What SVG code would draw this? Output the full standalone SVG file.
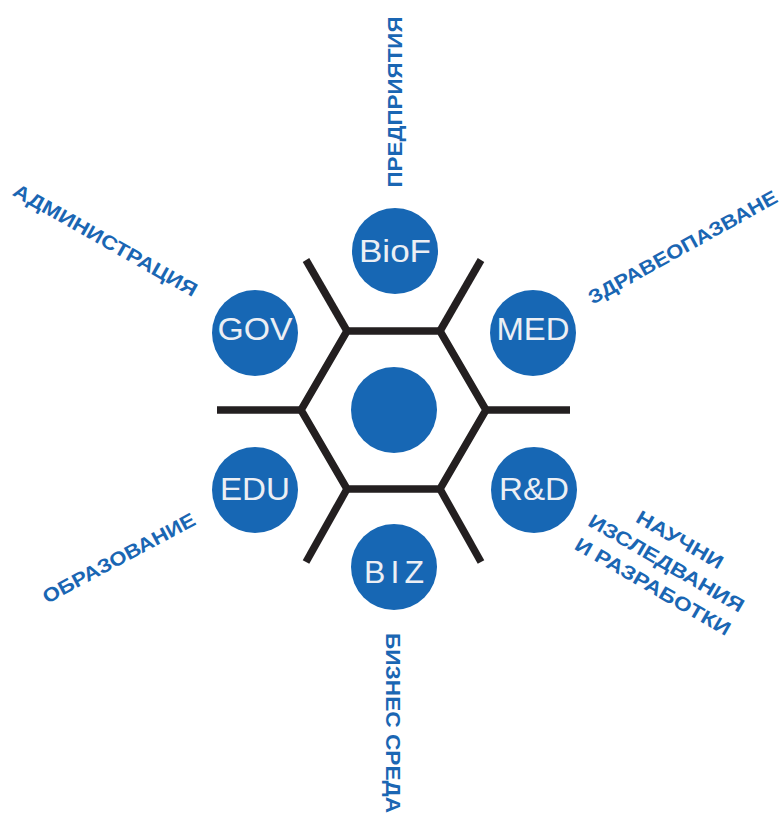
<svg xmlns="http://www.w3.org/2000/svg" width="782" height="814" viewBox="0 0 782 814">
<style>
.hex{fill:none;stroke:#231f20;stroke-width:7.5;stroke-linejoin:miter}
.spoke{stroke:#231f20;stroke-width:7.5;stroke-linecap:butt}
.node{fill:#1767b4}
.nl{font-family:"Liberation Sans",Arial,sans-serif;font-size:32px;fill:#eceff4;text-anchor:middle}
.ol{font-family:"Liberation Sans",Arial,sans-serif;font-weight:bold;font-size:19.5px;fill:#1a66b3}
</style>
<rect width="782" height="814" fill="#ffffff"/>
<g id="connectors">
<polygon class="hex" points="347,331 440,331 486,410 440,489 347,489 301,410"/>
<line class="spoke" x1="347" y1="331" x2="306" y2="260"/>
<line class="spoke" x1="440" y1="331" x2="481" y2="260"/>
<line class="spoke" x1="486" y1="410" x2="570" y2="410"/>
<line class="spoke" x1="440" y1="489" x2="481" y2="562"/>
<line class="spoke" x1="347" y1="489" x2="306" y2="562"/>
<line class="spoke" x1="301" y1="410" x2="217" y2="410"/>
</g>
<g id="center"><circle class="node" cx="394" cy="410" r="43"/></g>
<g id="biof"><circle class="node" cx="395" cy="251" r="43"/><text class="nl" x="395" y="262" textLength="72" lengthAdjust="spacingAndGlyphs">BioF</text></g>
<g id="gov"><circle class="node" cx="255" cy="333" r="43"/><text class="nl" x="255" y="340" textLength="75" lengthAdjust="spacingAndGlyphs">GOV</text></g>
<g id="med"><circle class="node" cx="533" cy="333" r="43"/><text class="nl" x="533" y="340" textLength="73" lengthAdjust="spacingAndGlyphs">MED</text></g>
<g id="edu"><circle class="node" cx="255" cy="490" r="43"/><text class="nl" x="255" y="500" textLength="70" lengthAdjust="spacingAndGlyphs">EDU</text></g>
<g id="rd"><circle class="node" cx="534" cy="490" r="43"/><text class="nl" x="534" y="500" textLength="70" lengthAdjust="spacingAndGlyphs">R&amp;D</text></g>
<g id="biz"><circle class="node" cx="394" cy="567" r="43"/><text class="nl" x="394" y="583" font-size="35" textLength="60" lengthAdjust="spacing">BIZ</text></g>
<g id="labels">
<text class="ol" transform="translate(402,102) rotate(-90)" text-anchor="middle" textLength="171" lengthAdjust="spacingAndGlyphs">ПРЕДПРИЯТИЯ</text>
<text class="ol" transform="translate(386,633) rotate(90)" textLength="180" lengthAdjust="spacingAndGlyphs">БИЗНЕС СРЕДА</text>
<text class="ol" transform="translate(102,246) rotate(29.5)" text-anchor="middle" textLength="208" lengthAdjust="spacingAndGlyphs">АДМИНИСТРАЦИЯ</text>
<text class="ol" transform="translate(686,253) rotate(-29)" text-anchor="middle" textLength="213" lengthAdjust="spacingAndGlyphs">ЗДРАВЕОПАЗВАНЕ</text>
<text class="ol" transform="translate(122,564) rotate(-28)" text-anchor="middle" textLength="170" lengthAdjust="spacingAndGlyphs">ОБРАЗОВАНИЕ</text>
<g transform="translate(663,569) rotate(30)">
<text class="ol" x="0" y="-27" text-anchor="middle" textLength="97" lengthAdjust="spacingAndGlyphs">НАУЧНИ</text>
<text class="ol" x="0" y="0" text-anchor="middle" textLength="176" lengthAdjust="spacingAndGlyphs">ИЗСЛЕДВАНИЯ</text>
<text class="ol" x="0" y="27" text-anchor="middle" textLength="176" lengthAdjust="spacingAndGlyphs">И РАЗРАБОТКИ</text>
</g>
</g>
</svg>
